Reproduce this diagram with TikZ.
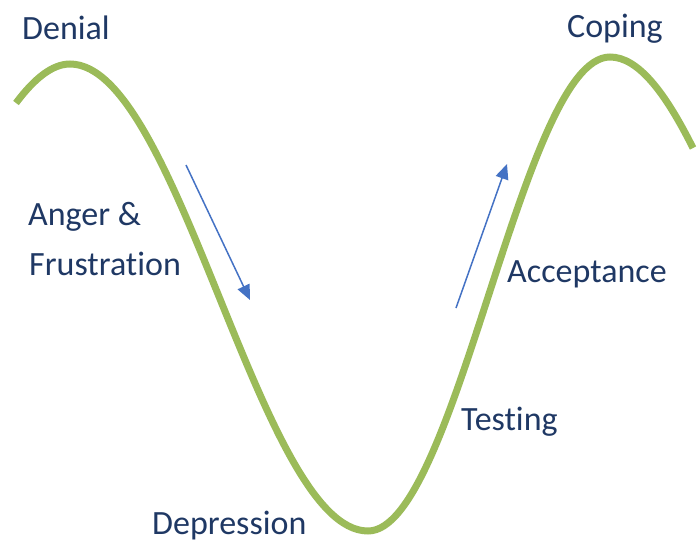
\documentclass[tikz,border=0pt]{standalone}
\usepackage{fontspec}
\setmainfont[Ligatures=NoCommon]{Carlito}
\usepackage{tikz}
\usetikzlibrary{arrows.meta}
\definecolor{cycgreen}{RGB}{155,187,89}
\definecolor{cycblue}{RGB}{68,114,196}
\definecolor{cycnavy}{RGB}{31,56,100}

\begin{document}
\begin{tikzpicture}[
  x=1pt, y=-1pt,
  every node/.style={font=\fontsize{34}{38}\selectfont, text=cycnavy},
  stage/.style={anchor=base west, inner sep=0pt},
  trend/.style={-{Triangle[length=15pt,width=13pt]}, line width=1.5pt, cycblue}
]
\useasboundingbox (0,0) rectangle (697,539);
% the change curve
\draw[cycgreen, line width=7pt]
  (16,103) .. controls (34,79) and (52,64) .. (70,64)
  .. controls (179,64) and (260,531) .. (368,531)
  .. controls (456,531) and (522,57) .. (610,57)
  .. controls (638,57) and (665,92) .. (693,148);
% stage names
\node[stage] (denial)  at (22,39)   {Denial};
\node[stage] (anger)   at (28,225)  {Anger \&};
\node[stage] (frust)   at (29,275)  {Frustration};
\node[stage] (depr)    at (152,534) {Depression};
\node[stage] (testing) at (461,430) {Testing};
\node[stage] (accept)  at (507,282) {Acceptance};
\node[stage] (coping)  at (567,37)  {Coping};
% direction arrows
\coordinate (downA) at (186,165);
\coordinate (downB) at (250,300);
\coordinate (upA)   at (456,308);
\coordinate (upB)   at (507,164);
\draw[trend] (downA) -- (downB);
\draw[trend] (upA) -- (upB);
\end{tikzpicture}
\end{document}
